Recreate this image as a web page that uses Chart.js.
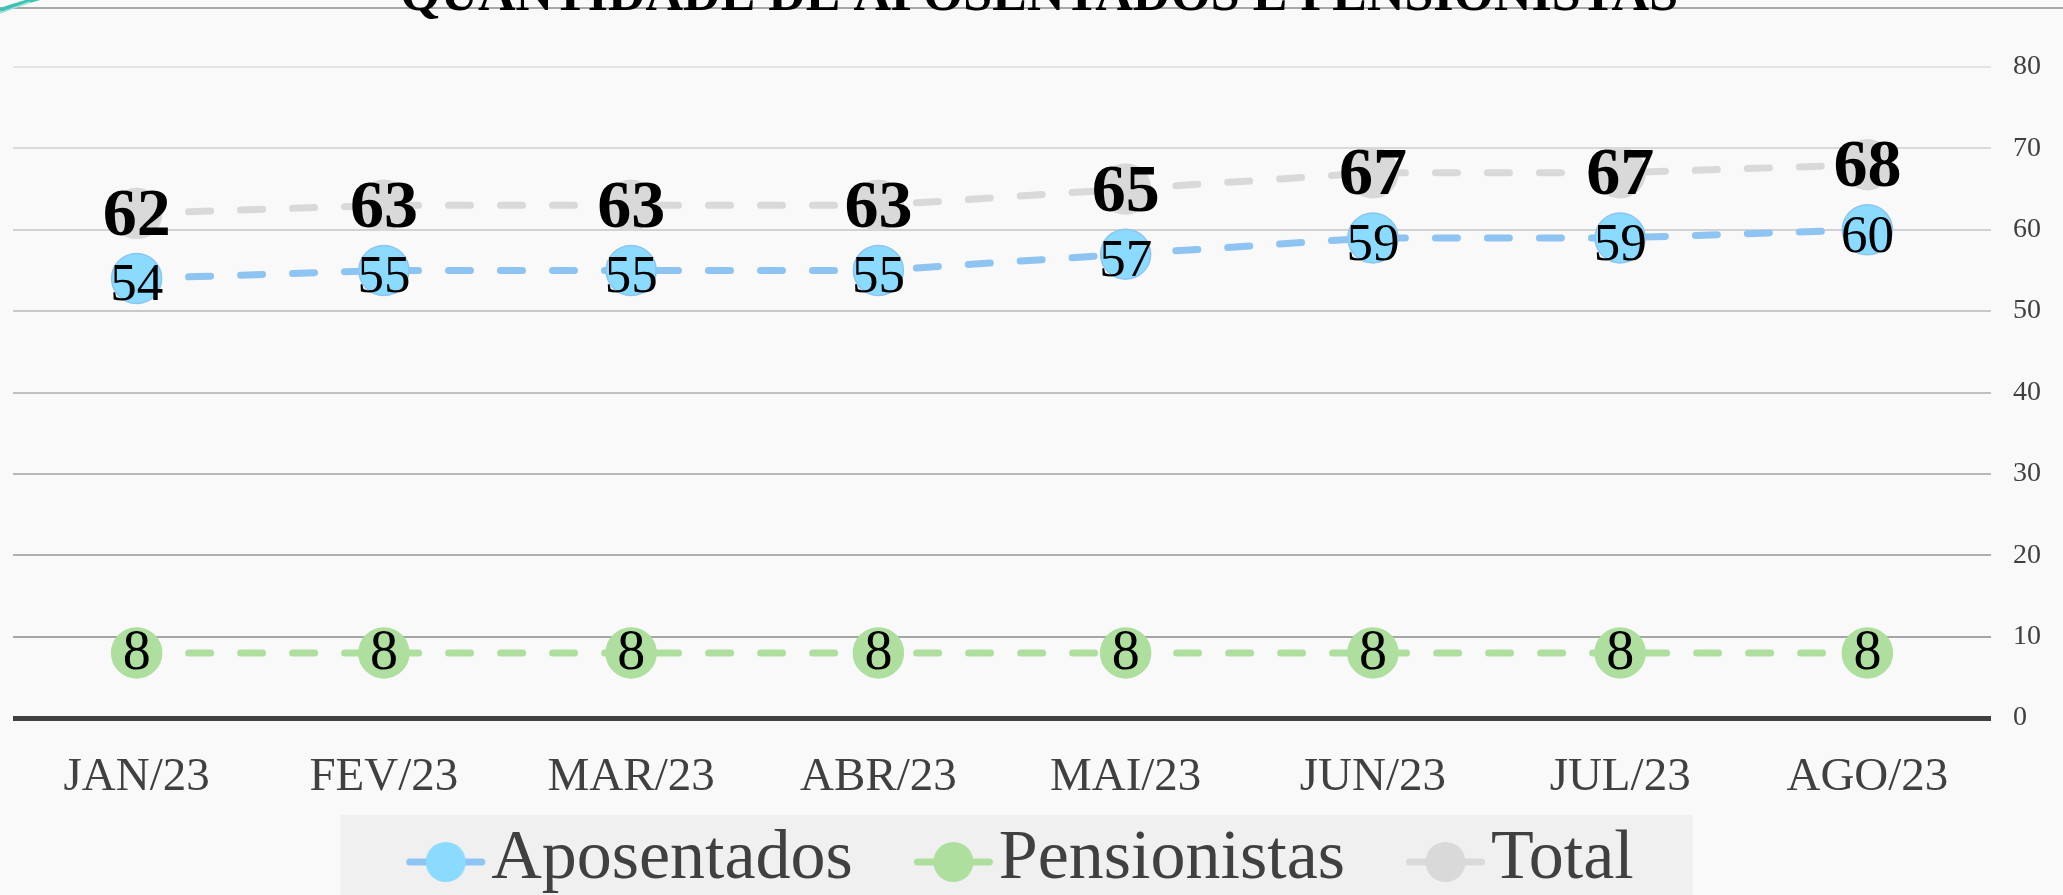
<!DOCTYPE html>
<html><head><meta charset="utf-8">
<script src="https://cdn.jsdelivr.net/npm/chart.js@4.4.0/dist/chart.umd.min.js"></script>
<style>
html,body{margin:0;padding:0;overflow:hidden;background:#f9f9f9;width:2063px;height:895px;}
#wrap{position:absolute;left:0;top:0;width:2063px;height:905px;}
</style></head><body>
<div id="wrap"><canvas id="c"></canvas></div>
<script>
const chartTitle = 'QUANTIDADE DE APOSENTADOS E PENSIONISTAS';
const categories = ['JAN/23','FEV/23','MAR/23','ABR/23','MAI/23','JUN/23','JUL/23','AGO/23'];
const seriesNames = ['Aposentados','Pensionistas','Total'];
const aposentados = [54,55,55,55,57,59,59,60];
const pensionistas = [8,8,8,8,8,8,8,8];
const total = [62,63,63,63,65,67,67,68];
const yMin = 0, yMax = 80, yStep = 10;

const lineColors = ['#8ec4f2','#aedf9f','#d9d9d9'];
const pointColors = ['#8adbff','#aedf9f','#d9d9d9'];
const gridColors = {80:'#e3e3e3',70:'#dadada',60:'#d2d2d2',50:'#c9c9c9',40:'#c0c0c0',30:'#b8b8b8',20:'#afafaf',10:'#a6a6a6',0:'#404040'};
const SERIF = '"Liberation Serif", "Times New Roman", serif';

function makeMarker(lineColor, fillColor){
  const c = document.createElement('canvas');
  c.width = 146; c.height = 50;
  const g = c.getContext('2d');
  g.strokeStyle = lineColor; g.lineWidth = 7; g.lineCap = 'round';
  g.beginPath(); g.moveTo(69.5,27); g.lineTo(141.5,27); g.stroke();
  g.fillStyle = fillColor;
  g.beginPath(); g.arc(105.5,27,20,0,Math.PI*2); g.fill();
  return c;
}
const markers = [0,1,2].map(i => makeMarker(lineColors[i], pointColors[i]));

const seriesData = [aposentados, pensionistas, total];
const datasets = seriesData.map((d,i) => ({
  label: seriesNames[i],
  data: d,
  borderColor: lineColors[i],
  backgroundColor: pointColors[i],
  borderWidth: 7,
  borderDash: [22,30],
  borderCapStyle: 'round',
  pointRadius: 25,
  pointHoverRadius: 25,
  pointBackgroundColor: pointColors[i],
  pointBorderColor: lineColors[i],
  pointBorderWidth: 1.5,
  tension: 0,
  fill: false
}));

const labelStyles = [
  {font: 'normal 53px ' + SERIF, dy: 8},
  {font: 'normal 56px ' + SERIF, dy: 1},
  {font: 'bold 68px ' + SERIF, dy: 4}
];

const decorPlugin = {
  id: 'decor',
  beforeDraw(chart){
    const ctx = chart.ctx;
    ctx.save();
    const lg = chart.legend;
    if (lg && lg.legendHitBoxes && lg.legendHitBoxes.length){
      const hb = lg.legendHitBoxes;
      const first = hb[0], last = hb[hb.length-1];
      const left = first.left - 30;
      const right = last.left + last.width + 59;
      const top = first.top - 10;
      ctx.fillStyle = '#f0f0f0';
      ctx.fillRect(left, top, right-left, chart.height - top);
    }
    ctx.strokeStyle = '#a8a8a8'; ctx.lineWidth = 2;
    ctx.beginPath(); ctx.moveTo(0,8); ctx.lineTo(chart.width,8); ctx.stroke();
    ctx.strokeStyle = '#3fc1b4'; ctx.lineWidth = 4;
    ctx.beginPath(); ctx.moveTo(0,10); ctx.quadraticCurveTo(18,4,40,-2); ctx.stroke();
    ctx.strokeStyle = '#9fe0d8'; ctx.lineWidth = 1.5;
    ctx.beginPath(); ctx.moveTo(0,13); ctx.quadraticCurveTo(14,8,30,2); ctx.stroke();
    ctx.fillStyle = '#000';
    ctx.font = 'bold 52px ' + SERIF;
    ctx.textAlign = 'center'; ctx.textBaseline = 'alphabetic';
    ctx.fillText(chartTitle, 1039, 10);
    ctx.restore();
  },
  afterDatasetsDraw(chart){
    const ctx = chart.ctx;
    ctx.save();
    ctx.textAlign = 'center'; ctx.textBaseline = 'middle';
    ctx.fillStyle = '#000';
    chart.data.datasets.forEach((ds, i) => {
      const meta = chart.getDatasetMeta(i);
      ctx.font = labelStyles[i].font;
      meta.data.forEach((pt, j) => {
        ctx.fillText(String(ds.data[j]), pt.x, pt.y + labelStyles[i].dy);
      });
    });
    ctx.restore();
  }
};

new Chart(document.getElementById('c'), {
  type: 'line',
  data: { labels: categories, datasets },
  options: {
    responsive: true,
    maintainAspectRatio: false,
    animation: false,
    events: [],
    layout: { autoPadding: false, padding: { top: 67, left: 13, right: 0, bottom: 0 } },
    plugins: {
      title: { display: false },
      tooltip: { enabled: false },
      legend: {
        position: 'bottom',
        fullSize: false,
        labels: {
          usePointStyle: true,
          pointStyleWidth: 86,
          padding: 25,
          color: '#404040',
          font: { family: SERIF, size: 70 },
          generateLabels(chart){
            return chart.data.datasets.map((ds,i) => ({
              text: ds.label,
              fillStyle: pointColors[i],
              strokeStyle: lineColors[i],
              lineWidth: 0,
              pointStyle: markers[i],
              hidden: false,
              datasetIndex: i,
              fontColor: '#404040'
            }));
          }
        }
      }
    },
    scales: {
      x: {
        offset: true,
        afterFit(scale){ scale.paddingLeft = 0; scale.paddingRight = 0; },
        grid: { display: true, drawOnChartArea: false, drawTicks: true, tickLength: 38, color: 'rgba(0,0,0,0)' },
        border: { display: false },
        ticks: {
          color: '#404040',
          padding: 7.9,
          font: { family: SERIF, size: 47, lineHeight: 0.6 },
          maxRotation: 0, autoSkip: false
        }
      },
      y: {
        position: 'right',
        min: yMin, max: yMax,
        afterFit(scale){ scale.width = 72; },
        border: { display: false },
        grid: {
          drawTicks: false,
          color: (c) => gridColors[c.tick.value] || '#cccccc',
          lineWidth: (c) => c.tick.value === 0 ? 5 : 2
        },
        ticks: {
          stepSize: yStep,
          padding: 22,
          color: '#404040',
          font: { family: SERIF, size: 28 }
        }
      }
    }
  },
  plugins: [decorPlugin]
});
</script>
</body></html>
